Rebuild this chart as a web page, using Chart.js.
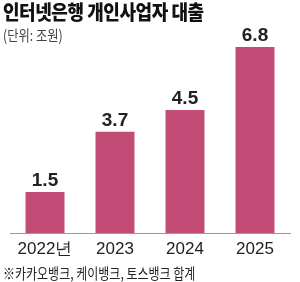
<!DOCTYPE html>
<html>
<head>
<meta charset="utf-8">
<script src="https://cdn.jsdelivr.net/npm/chart.js@4"></script>
<style>
  body { margin: 0; background: #fff; }
  #wrap { position: relative; width: 300px; height: 282px; overflow: hidden; font-family: "Noto Sans CJK KR", sans-serif; }
  #chart { position: absolute; left: 0; top: 0; }
  .txt { position: absolute; white-space: nowrap; transform-origin: left top; }
  #title { left: 3px; top: -3px; font-size: 20px; font-weight: 900; color: #111; transform: scaleX(0.9); letter-spacing: -0.5px; }
  #unit { left: 3px; top: 24px; font-size: 15px; color: #444; transform: scaleX(0.82); }
  #note { left: 3px; top: 262px; font-size: 15px; color: #222; transform: scaleX(0.8); }
</style>
</head>
<body>
<div id="wrap">
  <canvas id="chart" width="300" height="282"></canvas>
  <div class="txt" id="title">인터넷은행 개인사업자 대출</div>
  <div class="txt" id="unit">(단위: 조원)</div>
  <div class="txt" id="note">※카카오뱅크, 케이뱅크, 토스뱅크 합계</div>
</div>
<script>
var years = ['2022년', '2023', '2024', '2025'];
var loans = [1.5, 3.7, 4.5, 6.8];

// value labels on top of each bar
var barLabels = {
  id: 'barLabels',
  afterDatasetsDraw: function(chart) {
    var ctx = chart.ctx;
    var meta = chart.getDatasetMeta(0);
    ctx.save();
    ctx.font = 'bold 19px "Liberation Sans", Arial, sans-serif';
    ctx.fillStyle = '#222';
    ctx.textAlign = 'center';
    ctx.textBaseline = 'alphabetic';
    meta.data.forEach(function(bar, i) {
      ctx.fillText(loans[i].toFixed(1), bar.x, bar.y - 6);
    });
    ctx.restore();
  }
};

var ctx = document.getElementById('chart').getContext('2d');
var myChart = new Chart(ctx, {
  type: 'bar',
  data: {
    labels: years,
    datasets: [{
      data: loans,
      backgroundColor: '#c34c77',
      barPercentage: 0.557,
      categoryPercentage: 1
    }]
  },
  options: {
    responsive: false,
    animation: false,
    layout: { padding: { left: 10, right: 10, top: 47, bottom: 0 } },
    plugins: { legend: { display: false }, tooltip: { enabled: false } },
    scales: {
      x: {
        grid: { display: false, drawTicks: false },
        border: { display: true, color: '#9a9a9a', width: 1 },
        ticks: {
          color: '#222',
          padding: 6,
          font: { size: 17, family: '"Liberation Sans", Arial, sans-serif' }
        },
        afterFit: function(scale) { scale.height = 49; }
      },
      y: {
        display: false,
        min: 0,
        max: 6.8
      }
    }
  },
  plugins: [barLabels]
});
</script>
</body>
</html>
